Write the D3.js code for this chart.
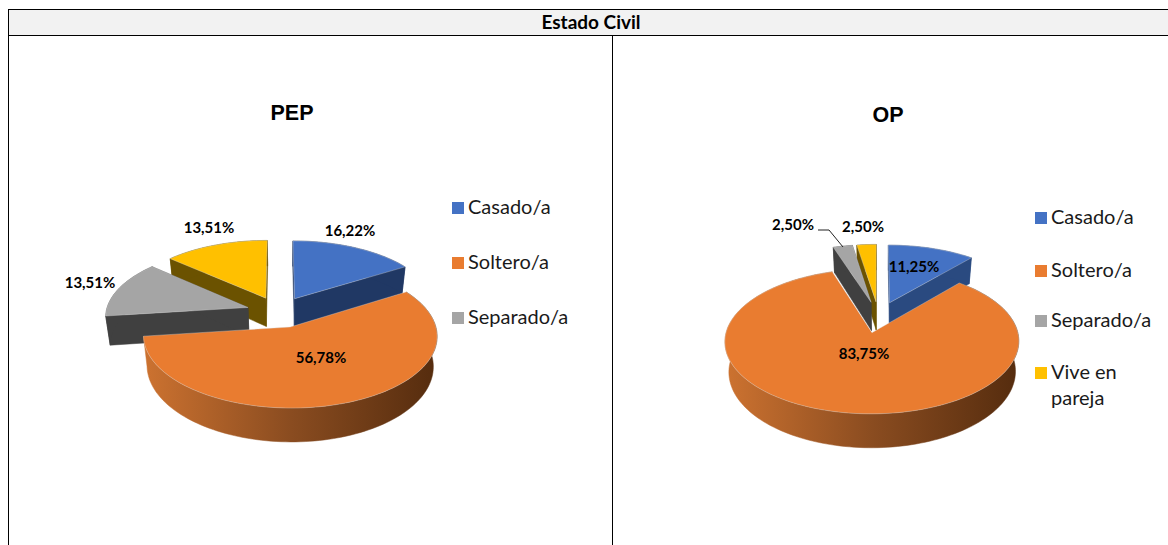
<!DOCTYPE html>
<html><head><meta charset="utf-8">
<script src="https://cdn.jsdelivr.net/npm/d3@7"></script>
<style>html,body{margin:0;padding:0;background:#fff}svg{display:block}</style>
</head><body><svg id="c" width="1168" height="545"></svg>
<script>
const categories = ["Casado/a","Soltero/a","Separado/a","Vive en pareja"];
const pepValues = [16.22,56.78,13.51,13.51];
const opValues = [11.25,83.75,2.50,2.50];
const pepLabels = ["16,22%","56,78%","13,51%","13,51%"];
const opLabels = ["11,25%","83,75%","2,50%","2,50%"];
const topColors = ["#4472c4","#e97c30","#a5a5a5","#ffc000"];
const pepSide = ["#203864",null,"#404040","#6b5200"];
const opSide = ["#2a4a80",null,"#404040","#6b5200"];

const pepLayout = {cx:279,cy:312,side:pepSide,labelXY:[[350,232],[321,359],[90,284],[209,229]],
  title:[292,113],legendX:452,legendY:[208,263,318],legendCats:[0,1,2],gx:[145,437]};
const opLayout = {cx:878.5,cy:317,side:opSide,labelXY:[[914,268],[864,355],[793,226],[863,228]],
  title:[888,115],legendX:1035,legendY:[218,271,321,373],legendCats:[0,1,2,3],gx:[727,1018]};
const geo = {rx:142,ry:67.6,p:0.118,explode:0.23,depth:29,baseScale:0.975};

const svg = d3.select("#c");
const defs = svg.append("defs");

// frame
svg.append("rect").attr("x",8.5).attr("y",9.5).attr("width",1170).attr("height",26).attr("fill","#f2f2f2").attr("stroke","#000");
svg.append("line").attr("x1",8.5).attr("x2",8.5).attr("y1",35).attr("y2",545).attr("stroke","#000");
svg.append("line").attr("x1",612.5).attr("x2",612.5).attr("y1",35).attr("y2",545).attr("stroke","#000");
svg.append("text").attr("x",591).attr("y",28.5).attr("text-anchor","middle")
  .attr("font-family","Lato").attr("font-weight",700).attr("font-size",19).attr("fill","#000").text("Estado Civil");

const line = d3.line().x(d=>d[0]).y(d=>d[1]);

function drawPie(name,values,labels,L){
  const g = svg.append("g");
  const pie = d3.pie().sort(null).startAngle(0).endAngle(2*Math.PI)(values);
  const grad = defs.append("linearGradient").attr("id","side"+name).attr("gradientUnits","userSpaceOnUse")
    .attr("x1",L.gx[0]).attr("x2",L.gx[1]).attr("y1",0).attr("y2",0);
  [[0,"#cc7230"],[0.5,"#8a4c20"],[1,"#552c0e"]].forEach(s=>grad.append("stop").attr("offset",s[0]).attr("stop-color",s[1]));

  const proj = (u,v)=>{const w=1+geo.p*v;return [L.cx+geo.rx*u/w, L.cy-geo.ry*v/w, w];};
  const top = (u,v)=>{const q=proj(u,v);return [q[0],q[1]];};
  const base = (u,v)=>{const q=proj(u,v);
    return [L.cx+6+(q[0]-L.cx-6)*geo.baseScale, q[1]+geo.depth/q[2]];};

  // paint order: back slices first, the big slice last
  [3,2,0,1].forEach(i=>{
    const s = pie[i];
    const mid=(s.startAngle+s.endAngle)/2;
    const ox=geo.explode*Math.sin(mid), oy=geo.explode*Math.cos(mid);
    const n=Math.max(8,Math.ceil((s.endAngle-s.startAngle)/0.03));
    const angs=d3.range(n+1).map(k=>s.startAngle+(s.endAngle-s.startAngle)*k/n);
    const rim=angs.map(a=>[ox+Math.sin(a),oy+Math.cos(a)]);
    const apex=[ox,oy];
    const fillSide = L.side[i]||`url(#side${name})`;
    const wall = (a,b)=>g.append("path")
      .attr("d",line([top(...a),top(...b),base(...b),base(...a)])+"Z")
      .attr("fill",fillSide).attr("stroke",fillSide).attr("stroke-width",.5);
    if(i!==1){ wall(apex,rim[0]); wall(apex,rim[n]); }
    g.append("path")
      .attr("d",line(rim.map(r=>top(...r)).concat(rim.slice().reverse().map(r=>base(...r))))+"Z")
      .attr("fill",fillSide).attr("stroke",fillSide).attr("stroke-width",.5);
    g.append("path")
      .attr("d",line([top(...apex)].concat(rim.map(r=>top(...r))))+"Z")
      .attr("fill",topColors[i]).attr("stroke","#d9d9d9").attr("stroke-opacity",.45).attr("stroke-width",.8).attr("stroke-linejoin","round");
  });

  labels.forEach((t,i)=>{
    svg.append("text").attr("x",L.labelXY[i][0]).attr("y",L.labelXY[i][1]).attr("text-anchor","middle")
      .attr("dominant-baseline","middle").attr("font-family","Lato").attr("font-weight",700)
      .attr("font-size",15).attr("fill","#000").text(t);
  });

  svg.append("text").attr("x",L.title[0]).attr("y",L.title[1]+7).attr("text-anchor","middle")
    .attr("font-family","Liberation Sans").attr("font-weight",700).attr("font-size",21.5).attr("fill","#000").text(name);

  L.legendCats.forEach((c,k)=>{
    const y=L.legendY[k];
    svg.append("rect").attr("x",L.legendX).attr("y",y-6).attr("width",12).attr("height",12).attr("fill",topColors[c]);
    const tx=svg.append("text").attr("x",L.legendX+16).attr("y",y+6)
      .attr("font-family","Lato").attr("font-size",20).attr("fill","#1a1a1a");
    if(categories[c]==="Vive en pareja"){
      tx.text("Vive en");
      svg.append("text").attr("x",L.legendX+16).attr("y",y+32)
        .attr("font-family","Lato").attr("font-size",20).attr("fill","#1a1a1a").text("pareja");
    } else tx.text(categories[c]);
  });
}
drawPie("PEP",pepValues,pepLabels,pepLayout);
drawPie("OP",opValues,opLabels,opLayout);
// leader line for the grey OP label
svg.append("path").attr("d",line([[818,230],[829,230],[843,247]])).attr("fill","none").attr("stroke","#222").attr("stroke-width",1);
</script></body></html>
